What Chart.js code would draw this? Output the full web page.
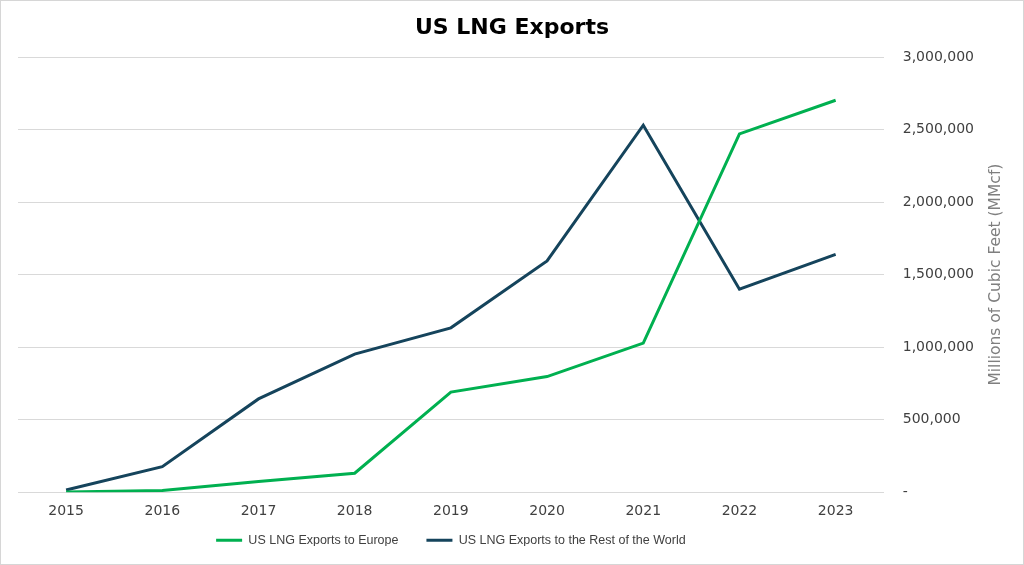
<!DOCTYPE html>
<html>
<head>
<meta charset="utf-8">
<script src="https://cdn.jsdelivr.net/npm/chart.js@4.4.1/dist/chart.umd.min.js"></script>
<style>
    html, body { margin: 0; padding: 0; background: #ffffff; }
    #wrap {
        width: 1024px;
        height: 565px;
        box-sizing: border-box;
        border: 1px solid #d6d6d6;
        position: relative;
    }
</style>
</head>
<body>
<div id="wrap">
    <canvas id="lng-exports"></canvas>
</div>
<script>
'use strict';

// Chart data (MMcf)
const years = ["2015", "2016", "2017", "2018", "2019", "2020", "2021", "2022", "2023"];
const exportsEurope = [2000, 11000, 73000, 131000, 690000, 797000, 1028000, 2470000, 2702000];
const exportsRestOfWorld = [15000, 176000, 643000, 952000, 1133000, 1594000, 2530000, 1399000, 1640000];
const seriesLabels = ["US LNG Exports to Europe", "US LNG Exports to the Rest of the World"];
const chartTitle = "US LNG Exports";
const yTitle = "Millions of Cubic Feet (MMcf)";

const greenColor = "#00b050";
const navyColor = "#15445c";
const tickColor = "#404040";
const gridColor = "#d9d9d9";
const verdanaLike = "'DejaVu Sans', Verdana, sans-serif";

// title centred on the whole frame, right axis title reading bottom-to-top
const frameTitles = {
    id: "frameTitles",
    afterLayout(chart) {
        // pull the legend up under the x labels
        const legend = chart.legend;
        legend.top -= 25;
        legend.bottom -= 25;
    },
    afterDraw(chart) {
        const ctx = chart.ctx;
        const yScale = chart.scales.y;
        ctx.save();
        ctx.font = `bold 22px ${verdanaLike}`;
        ctx.fillStyle = "#000000";
        ctx.textAlign = "center";
        ctx.textBaseline = "middle";
        ctx.fillText(chartTitle, chart.width / 2, 27);

        ctx.translate(995, (yScale.top + yScale.bottom) / 2);
        ctx.rotate(-Math.PI / 2);
        ctx.font = `15.5px ${verdanaLike}`;
        ctx.fillStyle = "#7f7f7f";
        ctx.fillText(yTitle, 0, 0);
        ctx.restore();
    }
};

const lngCtx = document.querySelector("#lng-exports");

const lngData = {
    labels: years,
    datasets: [
        {
            label: seriesLabels[0],
            data: exportsEurope,
            borderColor: greenColor,
            backgroundColor: greenColor,
            borderWidth: 3,
            pointRadius: 0,
            tension: 0,
        },
        {
            label: seriesLabels[1],
            data: exportsRestOfWorld,
            borderColor: navyColor,
            backgroundColor: navyColor,
            borderWidth: 3,
            pointRadius: 0,
            tension: 0,
        },
    ],
};

const lngConfig = {
    type: "line",
    data: lngData,
    plugins: [frameTitles],
    options: {
        responsive: true,
        maintainAspectRatio: false,
        animation: false,
        layout: {
            padding: { left: 17, right: 30, top: 56, bottom: -7 },
        },
        scales: {
            x: {
                offset: true,
                grid: { display: false, drawTicks: false },
                border: { display: true, color: gridColor, width: 1 },
                ticks: {
                    color: tickColor,
                    padding: 11,
                    maxRotation: 0,
                    font: { family: verdanaLike, size: 14 },
                },
            },
            y: {
                position: "right",
                min: 0,
                max: 3000000,
                grid: { color: gridColor, drawTicks: false },
                border: { display: false },
                ticks: {
                    stepSize: 500000,
                    color: tickColor,
                    padding: 19,
                    font: { family: verdanaLike, size: 14 },
                    callback: value => value === 0 ? "-" : value.toLocaleString("en-US"),
                },
            },
        },
        plugins: {
            title: { display: false },
            legend: {
                position: "bottom",
                fullSize: false,
                maxHeight: 40,
                labels: {
                    color: tickColor,
                    boxWidth: 26,
                    boxHeight: 3,
                    padding: 28,
                    font: { family: "'Liberation Sans', Arial, sans-serif", size: 12.5 },
                    generateLabels: chart => Chart.defaults.plugins.legend.labels.generateLabels(chart)
                        .map(item => ({ ...item, lineWidth: 0 })),
                },
            },
            tooltip: { enabled: false },
        },
    },
};

new Chart(lngCtx, lngConfig);
</script>
</body>
</html>
